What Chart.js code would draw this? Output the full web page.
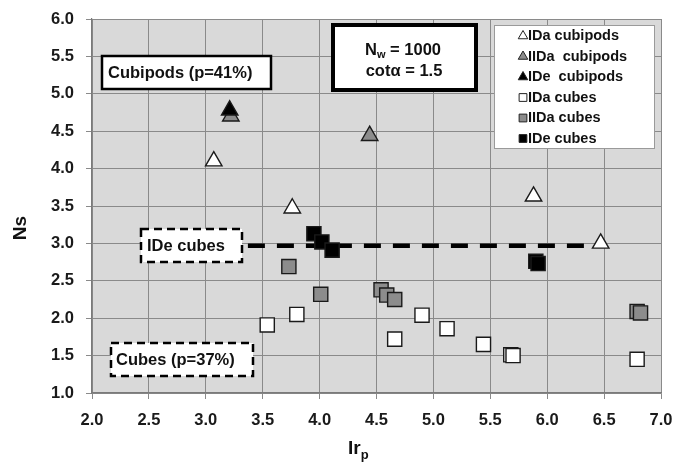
<!DOCTYPE html>
<html>
<head>
<meta charset="utf-8">
<script src="https://cdn.jsdelivr.net/npm/chart.js@4.4.1/dist/chart.umd.min.js"></script>
<style>
html, body { margin: 0; padding: 0; background: #fff; }
canvas { display: block; }
</style>
</head>
<body>
<canvas id="nsChart" width="677" height="464"></canvas>
<script>
// values
const seriesNames = ['IDa cubipods', 'IIDa  cubipods', 'IDe  cubipods', 'IDa cubes', 'IIDa cubes', 'IDe cubes'];

const idaCubipodsX = [3.07, 3.76, 5.88, 6.47];
const idaCubipodsY = [4.10, 3.47, 3.63, 3.00];
const iidaCubipodsX = [3.22, 4.44];
const iidaCubipodsY = [4.70, 4.44];
const ideCubipodsX = [3.21];
const ideCubipodsY = [4.78];
const idaCubesX = [3.54, 3.80, 4.66, 4.90, 5.12, 5.44, 5.68, 5.70, 6.79];
const idaCubesY = [1.91, 2.05, 1.72, 2.04, 1.86, 1.65, 1.51, 1.50, 1.45];
const iidaCubesX = [3.73, 4.01, 4.54, 4.59, 4.66, 6.79, 6.82];
const iidaCubesY = [2.69, 2.32, 2.38, 2.31, 2.25, 2.09, 2.07];
const ideCubesX = [3.95, 4.02, 4.11, 5.90, 5.92];
const ideCubesY = [3.13, 3.02, 2.91, 2.76, 2.73];
const ideLineX = [3.37, 6.40];
const ideLineY = [2.97, 2.97];

const xTicks = [2.0, 2.5, 3.0, 3.5, 4.0, 4.5, 5.0, 5.5, 6.0, 6.5, 7.0];
const yTicks = [1.0, 1.5, 2.0, 2.5, 3.0, 3.5, 4.0, 4.5, 5.0, 5.5, 6.0];

const FONT = '"Liberation Sans", Arial, Helvetica, sans-serif';

function pts(xs, ys) {
  return xs.map((x, i) => ({x: x, y: ys[i]}));
}

function markerSet(label, xs, ys, shape, fill, order) {
  return {
    label: label,
    data: pts(xs, ys),
    pointStyle: shape,
    pointRadius: shape === 'rect' ? 10 : 9.5,
    pointHoverRadius: shape === 'rect' ? 10 : 9.5,
    backgroundColor: fill,
    borderColor: '#1a1a1a',
    pointBorderWidth: 1.4,
    showLine: false,
    order: order
  };
}

const datasets = [
  markerSet(seriesNames[0], idaCubipodsX, idaCubipodsY, 'triangle', '#ffffff', 3),
  markerSet(seriesNames[1], iidaCubipodsX, iidaCubipodsY, 'triangle', '#8c8c8c', 2),
  markerSet(seriesNames[2], ideCubipodsX, ideCubipodsY, 'triangle', '#000000', 1),
  markerSet(seriesNames[3], idaCubesX, idaCubesY, 'rect', '#ffffff', 6),
  markerSet(seriesNames[4], iidaCubesX, iidaCubesY, 'rect', '#8c8c8c', 5),
  markerSet(seriesNames[5], ideCubesX, ideCubesY, 'rect', '#000000', 4),
  {
    label: 'IDe line',
    data: pts(ideLineX, ideLineY),
    showLine: true,
    borderColor: '#000',
    borderWidth: 4.5,
    borderDash: [17, 12],
    pointRadius: 0,
    fill: false,
    order: 10
  }
];

function box(ctx, x, y, w, h, lw, dash) {
  ctx.save();
  ctx.fillStyle = '#fff';
  ctx.fillRect(x, y, w, h);
  ctx.strokeStyle = '#000';
  ctx.lineWidth = lw;
  ctx.setLineDash(dash || []);
  ctx.strokeRect(x, y, w, h);
  ctx.restore();
}

// draws bold text, returns its width
function text(ctx, s, x, y, size, align) {
  ctx.font = 'bold ' + size + 'px ' + FONT;
  ctx.fillStyle = '#111';
  ctx.textAlign = align || 'left';
  ctx.textBaseline = 'middle';
  ctx.fillText(s, x, y);
  return ctx.measureText(s).width;
}

const decor = {
  id: 'decor',
  beforeDraw(c) {
    const a = c.chartArea;
    const ctx = c.ctx;
    ctx.save();
    ctx.fillStyle = '#fff';
    ctx.fillRect(0, 0, c.width, c.height);
    ctx.fillStyle = '#d9d9d9';
    ctx.fillRect(a.left, a.top, a.right - a.left, a.bottom - a.top);
    ctx.restore();
  },
  afterDraw(c) {
    const ctx = c.ctx;
    ctx.save();

    // axis titles
    ctx.save();
    ctx.translate(21, 228);
    ctx.rotate(-Math.PI / 2);
    text(ctx, 'Ns', 0, 0, 19, 'center');
    ctx.restore();
    let w = text(ctx, 'Ir', 348, 449, 19);
    text(ctx, 'p', 348 + w, 455, 13);

    // boxes
    box(ctx, 102, 56, 169, 33, 2.5);
    text(ctx, 'Cubipods (p=41%)', 108, 73, 16.5);

    box(ctx, 333, 25, 143, 65, 4);
    w = text(ctx, 'N', 365, 50, 16.5);
    let w2 = text(ctx, 'w', 365 + w, 55, 11);
    text(ctx, ' = 1000', 365 + w + w2, 50, 16.5);
    text(ctx, 'cotα = 1.5', 404, 71, 16.5, 'center');

    box(ctx, 141, 229, 101, 33, 2.5, [8, 5]);
    text(ctx, 'IDe cubes', 147, 246, 16.5);

    box(ctx, 111, 343, 142, 33, 2.5, [8, 5]);
    text(ctx, 'Cubes (p=37%)', 116, 360, 16.5);

    // legend
    ctx.fillStyle = '#fff';
    ctx.fillRect(494, 25, 160, 123);
    ctx.strokeStyle = '#9a9a9a';
    ctx.lineWidth = 1;
    ctx.strokeRect(494.5, 25.5, 160, 123);
    for (let i = 0; i < 6; i++) {
      const ds = c.data.datasets[i];
      const y = 36 + i * 20.5;
      ctx.fillStyle = ds.backgroundColor;
      ctx.strokeStyle = '#222';
      ctx.lineWidth = 1;
      Chart.helpers.drawPoint(ctx, {
        pointStyle: ds.pointStyle,
        radius: 5.5,
        borderWidth: 1
      }, 523, y);
      text(ctx, ds.label, 528, y, 14.5);
    }
    ctx.restore();
  }
};

new Chart(document.getElementById('nsChart'), {
  type: 'scatter',
  data: {datasets: datasets},
  options: {
    responsive: false,
    animation: false,
    events: [],
    layout: {padding: {top: 19, right: 16, left: 0, bottom: 0}},
    plugins: {legend: {display: false}, tooltip: {enabled: false}},
    scales: {
      x: {
        type: 'linear',
        min: 2, max: 7,
        afterBuildTicks: s => { s.ticks = xTicks.map(v => ({value: v})); },
        afterFit: s => { s.height = 71; s.paddingLeft = 0; s.paddingRight = 0; },
        grid: {color: '#8a8a8a', lineWidth: 1, tickLength: 6, tickColor: '#8a8a8a'},
        border: {color: '#7a7a7a', width: 1.2},
        ticks: {
          color: '#1a1a1a', padding: 12,
          font: {family: FONT, size: 16.5, weight: 'bold'},
          callback: v => Number(v).toFixed(1)
        }
      },
      y: {
        type: 'linear',
        min: 1, max: 6,
        afterBuildTicks: s => { s.ticks = yTicks.map(v => ({value: v})); },
        afterFit: s => { s.width = 92; s.paddingTop = 0; s.paddingBottom = 0; },
        grid: {color: '#8a8a8a', lineWidth: 1, tickLength: 6, tickColor: '#8a8a8a'},
        border: {color: '#7a7a7a', width: 1.2},
        ticks: {
          color: '#1a1a1a', padding: 12,
          font: {family: FONT, size: 16.5, weight: 'bold'},
          callback: v => Number(v).toFixed(1)
        }
      }
    }
  },
  plugins: [decor]
});
</script>
</body>
</html>
